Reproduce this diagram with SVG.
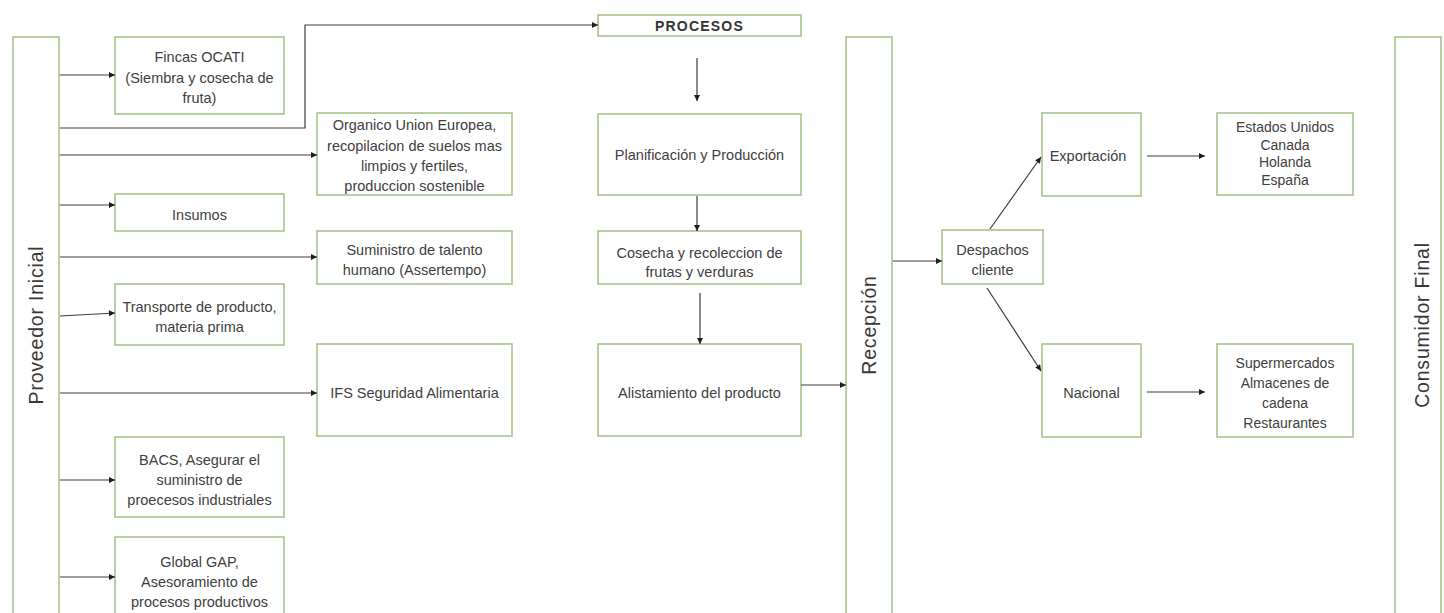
<svg xmlns="http://www.w3.org/2000/svg" width="1444" height="613" viewBox="0 0 1444 613">
  <style>
    .box { fill: #ffffff; stroke: #a2c084; stroke-width: 1.5; }
    .lbl { font-family: "Liberation Sans", Arial, sans-serif; font-size: 14.5px; fill: #404040; text-anchor: middle; }
    .sm { font-size: 14px; }
    .title { font-family: "Liberation Sans", Arial, sans-serif; font-size: 19.5px; fill: #383838; text-anchor: middle; letter-spacing: 0.8px; }
    .head { font-family: "Liberation Sans", Arial, sans-serif; font-size: 14px; font-weight: bold; fill: #333333; text-anchor: middle; letter-spacing: 1.2px; }
    .conn { fill: none; stroke: #3c3c3c; stroke-width: 1.2; marker-end: url(#arr); }
  </style>
  <defs>
    <marker id="arr" viewBox="0 0 10 10" refX="10" refY="5" markerWidth="7" markerHeight="6" markerUnits="userSpaceOnUse" orient="auto">
      <path d="M0,0 L10,5 L0,10 z" fill="#1e1e1e"/>
    </marker>
  </defs>
  <rect width="1444" height="613" fill="#ffffff"/>

  <!-- vertical stage bars -->
  <g id="proveedor">
    <rect class="box" x="13" y="37" width="46" height="590"/>
    <text class="title" transform="translate(43,325) rotate(-90)">Proveedor Inicial</text>
  </g>
  <g id="recepcion">
    <rect class="box" x="846" y="37" width="46" height="590"/>
    <text class="title" transform="translate(876,325) rotate(-90)">Recepción</text>
  </g>
  <g id="consumidor">
    <rect class="box" x="1395" y="37" width="46" height="590"/>
    <text class="title" transform="translate(1429,325) rotate(-90)">Consumidor Final</text>
  </g>

  <!-- suppliers -->
  <g id="fincas">
    <rect class="box" x="115" y="37" width="169" height="77"/>
    <text class="lbl" x="199.5" y="62">Fincas OCATI</text>
    <text class="lbl" x="199.5" y="83">(Siembra y cosecha de</text>
    <text class="lbl" x="199.5" y="103">fruta)</text>
  </g>
  <g id="organico">
    <rect class="box" x="317" y="113" width="195" height="82"/>
    <text class="lbl" x="414.5" y="130">Organico Union Europea,</text>
    <text class="lbl" x="414.5" y="151">recopilacion de suelos mas</text>
    <text class="lbl" x="414.5" y="171">limpios y fertiles,</text>
    <text class="lbl" x="414.5" y="191">produccion sostenible</text>
  </g>
  <g id="insumos">
    <rect class="box" x="115" y="194" width="169" height="37"/>
    <text class="lbl" x="199.5" y="220">Insumos</text>
  </g>
  <g id="suministro">
    <rect class="box" x="317" y="231" width="195" height="53"/>
    <text class="lbl" x="414.5" y="255">Suministro de talento</text>
    <text class="lbl" x="414.5" y="275">humano (Assertempo)</text>
  </g>
  <g id="transporte">
    <rect class="box" x="115" y="284" width="169" height="61"/>
    <text class="lbl" x="199.5" y="312">Transporte de producto,</text>
    <text class="lbl" x="199.5" y="332">materia prima</text>
  </g>
  <g id="ifs">
    <rect class="box" x="317" y="344" width="195" height="92"/>
    <text class="lbl" x="414.5" y="398">IFS Seguridad Alimentaria</text>
  </g>
  <g id="bacs">
    <rect class="box" x="115" y="437" width="169" height="80"/>
    <text class="lbl" x="199.5" y="465">BACS, Asegurar el</text>
    <text class="lbl" x="199.5" y="485">suministro de</text>
    <text class="lbl" x="199.5" y="505">proecesos industriales</text>
  </g>
  <g id="globalgap">
    <rect class="box" x="115" y="537" width="169" height="90"/>
    <text class="lbl" x="199.5" y="567">Global GAP,</text>
    <text class="lbl" x="199.5" y="587">Asesoramiento de</text>
    <text class="lbl" x="199.5" y="607">procesos productivos</text>
  </g>

  <!-- process column -->
  <g id="procesos">
    <rect class="box" x="598" y="15" width="203" height="21"/>
    <text class="head" x="699.5" y="31">PROCESOS</text>
  </g>
  <g id="planificacion">
    <rect class="box" x="598" y="114" width="203" height="81"/>
    <text class="lbl" x="699.5" y="160">Planificación y Producción</text>
  </g>
  <g id="cosecha">
    <rect class="box" x="598" y="231" width="203" height="53"/>
    <text class="lbl" x="699.5" y="258">Cosecha y recoleccion de</text>
    <text class="lbl" x="699.5" y="277">frutas y verduras</text>
  </g>
  <g id="alistamiento">
    <rect class="box" x="598" y="344" width="203" height="92"/>
    <text class="lbl" x="699.5" y="398">Alistamiento del producto</text>
  </g>

  <!-- distribution -->
  <g id="despachos">
    <rect class="box" x="942" y="230" width="101" height="54"/>
    <text class="lbl" x="992.5" y="255">Despachos</text>
    <text class="lbl" x="992.5" y="275">cliente</text>
  </g>
  <g id="exportacion">
    <rect class="box" x="1042" y="113" width="99" height="83"/>
    <text class="lbl" x="1088" y="161">Exportación</text>
  </g>
  <g id="nacional">
    <rect class="box" x="1042" y="344" width="99" height="93"/>
    <text class="lbl" x="1091.5" y="398">Nacional</text>
  </g>
  <g id="destinos-export">
    <rect class="box" x="1217" y="113" width="136" height="82"/>
    <text class="lbl sm" x="1285" y="132">Estados Unidos</text>
    <text class="lbl sm" x="1285" y="149.5">Canada</text>
    <text class="lbl sm" x="1285" y="167">Holanda</text>
    <text class="lbl sm" x="1285" y="184.5">España</text>
  </g>
  <g id="destinos-nacional">
    <rect class="box" x="1217" y="344" width="136" height="93"/>
    <text class="lbl sm" x="1285" y="368">Supermercados</text>
    <text class="lbl sm" x="1285" y="388">Almacenes de</text>
    <text class="lbl sm" x="1285" y="408">cadena</text>
    <text class="lbl sm" x="1285" y="428">Restaurantes</text>
  </g>

  <!-- connectors -->
  <g id="connectors">
    <path class="conn" d="M60,75 H115"/>
    <path class="conn" d="M60,128 H305 V25 H598"/>
    <path class="conn" d="M60,155 H317"/>
    <path class="conn" d="M60,205 H115"/>
    <path class="conn" d="M60,257 H317"/>
    <path class="conn" d="M60,316 L115,313"/>
    <path class="conn" d="M60,393 H317"/>
    <path class="conn" d="M60,480 H115"/>
    <path class="conn" d="M60,577 H115"/>
    <path class="conn" d="M697,58 V101"/>
    <path class="conn" d="M697,196 V231"/>
    <path class="conn" d="M700,293 V344"/>
    <path class="conn" d="M801,385 H846"/>
    <path class="conn" d="M893,261 H942"/>
    <path class="conn" d="M990,229 L1041,157"/>
    <path class="conn" d="M987,288 L1041,371"/>
    <path class="conn" d="M1147,156 H1205"/>
    <path class="conn" d="M1147,392 H1205"/>
  </g>
</svg>
